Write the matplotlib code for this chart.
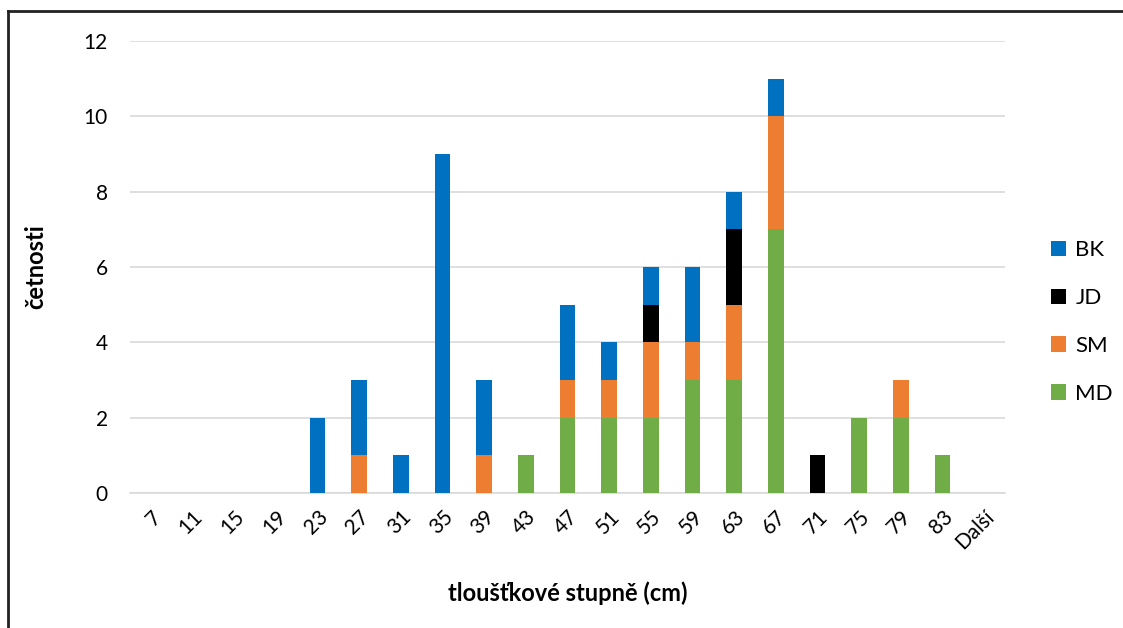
import matplotlib
matplotlib.use("Agg")
import matplotlib.pyplot as plt
from matplotlib.lines import Line2D
from matplotlib.patches import Patch
import numpy as np

plt.rcParams['font.family'] = ['Lato', 'DejaVu Sans']

categories = ["7", "11", "15", "19", "23", "27", "31", "35", "39", "43", "47",
              "51", "55", "59", "63", "67", "71", "75", "79", "83", "Další"]

# counts per diameter class, one list per species
md = [0, 0, 0, 0, 0, 0, 0, 0, 0, 1, 2, 2, 2, 3, 3, 7, 0, 2, 2, 1, 0]
sm = [0, 0, 0, 0, 0, 1, 0, 0, 1, 0, 1, 1, 2, 1, 2, 3, 0, 0, 1, 0, 0]
jd = [0, 0, 0, 0, 0, 0, 0, 0, 0, 0, 0, 0, 1, 0, 2, 0, 1, 0, 0, 0, 0]
bk = [0, 0, 0, 0, 2, 2, 1, 9, 2, 0, 2, 1, 1, 2, 1, 1, 0, 0, 0, 0, 0]

series = [("MD", md, "#70AD47"), ("SM", sm, "#ED7D31"),
          ("JD", jd, "#000000"), ("BK", bk, "#0070C0")]

fig = plt.figure(figsize=(11.23, 6.28), dpi=100)
ax = fig.add_axes([0.1158, 0.2150, 0.7792, 0.7197])

x = np.arange(len(categories))
bottom = np.zeros(len(categories))
for name, vals, color in series:
    v = np.array(vals, dtype=float)
    ax.bar(x, v, width=0.38, bottom=bottom, color=color, zorder=3)
    bottom += v

ax.set_xlim(-0.5, len(categories) - 0.5)
ax.set_ylim(0, 12)
ax.set_yticks(range(0, 13, 2))
ax.yaxis.grid(True, color="#d9d9d9", linewidth=1.2, zorder=0)
ax.set_axisbelow(True)
for s in ["top", "right", "left"]:
    ax.spines[s].set_visible(False)
ax.spines["bottom"].set_color("#d9d9d9")
ax.spines["bottom"].set_linewidth(1.2)
ax.tick_params(axis="both", length=0, labelsize=15, colors="#000000")
ax.tick_params(axis="y", pad=16)
ax.set_xticks(x)
ax.set_xticklabels(categories, rotation=45, ha="right", rotation_mode="anchor")
ax.tick_params(axis="x", pad=10)

ax.set_xlabel("tloušťkové stupně (cm)", fontsize=17, fontweight="bold", labelpad=20)
ax.set_ylabel("četnosti", fontsize=17, fontweight="bold", labelpad=26)

handles = [Patch(facecolor=c, label=n) for n, _, c in reversed(series)]
fig.legend(handles=handles, loc="center left", bbox_to_anchor=(0.918, 0.487),
           frameon=False, fontsize=16, handlelength=0.7, handleheight=0.7,
           labelspacing=1.25, handletextpad=0.4)

# outer frame on top and left edges
fig.add_artist(Line2D([0.0075, 0.0075], [0.0, 0.983], transform=fig.transFigure,
                      color="#222222", linewidth=2))
fig.add_artist(Line2D([0.0075, 1.0], [0.983, 0.983], transform=fig.transFigure,
                      color="#222222", linewidth=2))

fig.savefig("out.png", dpi=100)
